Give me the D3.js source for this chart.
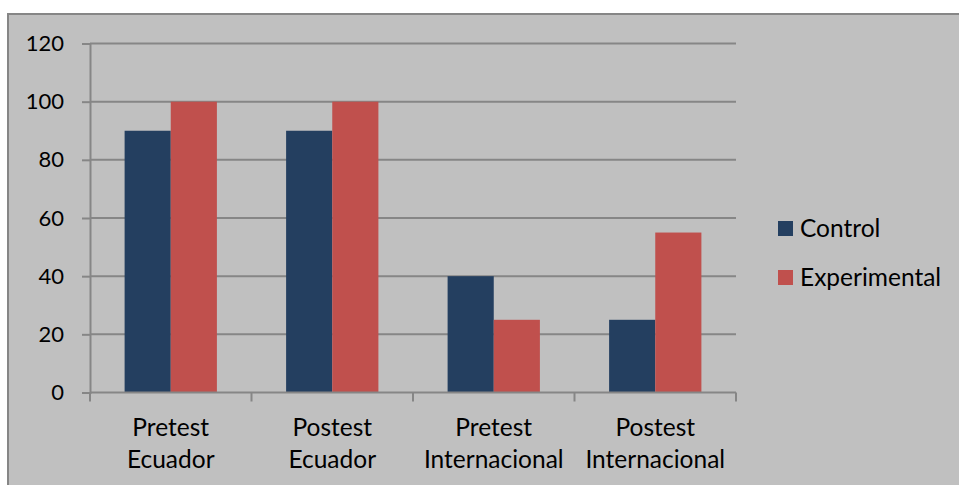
<!DOCTYPE html>
<html>
<head>
<meta charset="utf-8">
<script src="https://cdn.jsdelivr.net/npm/d3@7"></script>
<style>
  html, body { margin: 0; padding: 0; background: #ffffff; }
  svg { display: block; }
  text { font-family: Lato, "Open Sans", sans-serif; fill: #000; }
</style>
</head>
<body>
<script>
// Categories (two-line labels) and series values
const categories = [
  ["Pretest", "Ecuador"],
  ["Postest", "Ecuador"],
  ["Pretest", "Internacional"],
  ["Postest", "Internacional"]
];
const seriesNames = ["Control", "Experimental"];
const controlValues = [90, 90, 40, 25];
const experimentalValues = [100, 100, 25, 55];
const yTicks = [0, 20, 40, 60, 80, 100, 120];

const colors = { Control: "#243f60", Experimental: "#c0504d" };

const W = 959, H = 485;
const plot = { left: 90, right: 736, top: 43.5, bottom: 392.5 };

const svg = d3.select("body").append("svg")
  .attr("width", W).attr("height", H);

// Chart area with its frame
svg.append("rect")
  .attr("x", 8).attr("y", 14)
  .attr("width", W + 10).attr("height", H + 10)
  .attr("fill", "#c0c0c0")
  .attr("stroke", "#868686").attr("stroke-width", 2);

const catKeys = categories.map(c => c.join(" "));
const x = d3.scaleBand().domain(catKeys).range([plot.left, plot.right]).padding(0);
const inner = d3.scaleBand().domain(seriesNames).range([0, x.bandwidth()])
  .paddingInner(0).paddingOuter(0.75);
const y = d3.scaleLinear().domain([0, 120]).range([plot.bottom, plot.top]);

// Horizontal gridlines
svg.append("g").selectAll("line").data(yTicks.filter(t => t > 0)).join("line")
  .attr("x1", plot.left).attr("x2", plot.right)
  .attr("y1", d => y(d)).attr("y2", d => y(d))
  .attr("stroke", "#868686").attr("stroke-width", 2);

// Bars
const rows = catKeys.map((k, i) => ({ key: k, Control: controlValues[i], Experimental: experimentalValues[i] }));
const groups = svg.append("g").selectAll("g").data(rows).join("g")
  .attr("transform", d => `translate(${x(d.key)},0)`);
groups.selectAll("rect").data(d => seriesNames.map(s => ({ s, v: d[s] }))).join("rect")
  .attr("x", d => inner(d.s))
  .attr("width", inner.bandwidth())
  .attr("y", d => y(d.v))
  .attr("height", d => y(0) - y(d.v))
  .attr("fill", d => colors[d.s]);

// Y axis
const yAxis = svg.append("g")
  .attr("transform", `translate(${plot.left},0)`)
  .call(d3.axisLeft(y).tickValues(yTicks).tickSize(8).tickPadding(18).tickFormat(d3.format("d")));
yAxis.select(".domain").attr("stroke", "#868686").attr("stroke-width", 2);
yAxis.selectAll(".tick line").attr("stroke", "#868686").attr("stroke-width", 2);
yAxis.selectAll(".tick text")
  .style("font-family", "Lato, 'Open Sans', sans-serif")
  .attr("font-size", 22).attr("fill", "#000");

// X axis line and category boundary ticks
svg.append("line")
  .attr("x1", plot.left).attr("x2", plot.right)
  .attr("y1", y(0)).attr("y2", y(0))
  .attr("stroke", "#868686").attr("stroke-width", 2);
const bounds = catKeys.map(k => x(k)).concat([x(catKeys[catKeys.length - 1]) + x.bandwidth()]);
svg.append("g").selectAll("line").data(bounds).join("line")
  .attr("x1", d => d).attr("x2", d => d)
  .attr("y1", y(0)).attr("y2", y(0) + 9)
  .attr("stroke", "#868686").attr("stroke-width", 2);

// Category labels (two lines each)
const labels = svg.append("g").selectAll("text").data(categories).join("text")
  .attr("text-anchor", "middle")
  .attr("font-size", 24.5)
  .attr("x", (d, i) => x(catKeys[i]) + x.bandwidth() / 2);
labels.selectAll("tspan").data(d => d).join("tspan")
  .attr("x", function () { return this.parentNode.getAttribute("x"); })
  .attr("y", (d, j) => 436 + j * 31.5)
  .text(d => d);

// Legend
const legend = svg.append("g").selectAll("g").data(seriesNames).join("g")
  .attr("transform", (d, i) => `translate(778,${221 + i * 49})`);
legend.append("rect").attr("width", 15).attr("height", 15)
  .attr("fill", d => colors[d]);
legend.append("text").attr("x", 22).attr("y", 7.5).attr("dy", "0.35em")
  .attr("font-size", 24.5).text(d => d);
</script>
</body>
</html>
